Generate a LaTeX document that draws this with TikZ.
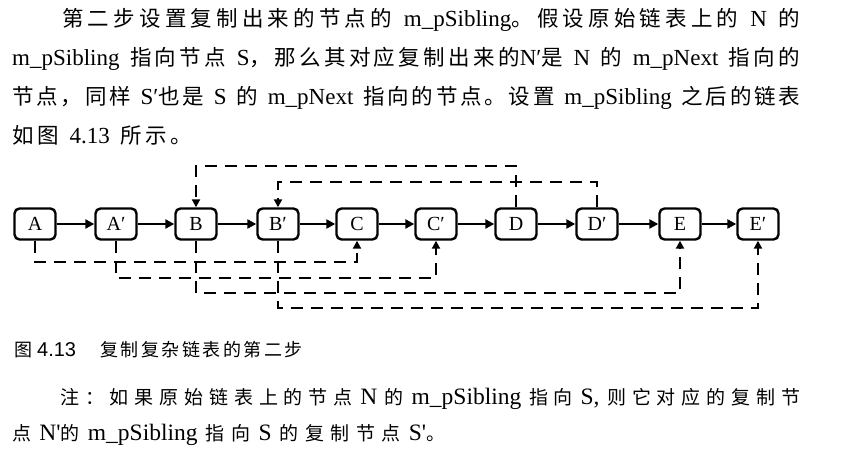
\documentclass[tikz,border=0pt]{standalone}
\usepackage{fontspec}
\setmainfont{Liberation Serif}
\newfontfamily\zhfont{Noto Sans CJK SC}
\newfontfamily\capsans{Liberation Sans}
\usetikzlibrary{arrows.meta}
\XeTeXinterchartokenstate=1
\newXeTeXintercharclass\zhcls
\newcount\zhcnt
\zhcnt="4E00
\loop
  \XeTeXcharclass\zhcnt=\zhcls
  \advance\zhcnt by 1
\ifnum\zhcnt<"A000 \repeat
\XeTeXcharclass"FF0C=\zhcls
\XeTeXcharclass"3002=\zhcls
\XeTeXcharclass"FF1A=\zhcls
\def\zhsp{\hskip 0pt plus 2bp}
\XeTeXinterchartoks\zhcls\zhcls={\zhsp}
\def\zhsize{21.5bp}
\newcommand\zh[1]{{\zhfont\fontsize{\zhsize}{\zhsize}\selectfont #1}}
\tikzset{
  lnode/.style={draw, line width=2.4bp, rounded corners=5bp, minimum width=41bp,
    minimum height=31bp, inner sep=0pt, font=\fontsize{20bp}{20bp}\selectfont},
  nxt/.style={line width=2.4bp, -{Triangle[length=9bp,width=9bp]}},
  sib/.style={line width=2.4bp, dash pattern=on 12bp off 8bp, -{Triangle[length=8bp,width=8bp]}},
  txt/.style={inner sep=0pt, anchor=base west, font=\fontsize{23bp}{26bp}\selectfont},
  notetxt/.style={inner sep=0pt, anchor=base west, font=\fontsize{23.5bp}{26bp}\selectfont},
}
\begin{document}
\begin{tikzpicture}[x=1bp,y=-1bp]
\useasboundingbox (0,0) rectangle (850,456);
% paragraph
\node[txt] (l1) at (62,27) {\makebox[738bp][s]{\zh{第二步设置复制出来的节点的} m\_pSibling\zh{。假设原始链表上的} N \zh{的}}};
\node[txt] (l2) at (12,66) {\makebox[788bp][s]{m\_pSibling \zh{指向节点} S\zh{，那么其对应复制出来的}N′\zh{是} N \zh{的} m\_pNext \zh{指向的}}};
\node[txt] (l3) at (12,105) {\makebox[788bp][s]{\zh{节点，同样} S′\zh{也是} S \zh{的} m\_pNext \zh{指向的节点。设置} m\_pSibling \zh{之后的链表}}};
\node[txt] (l4) at (12,144) {\makebox[180bp][s]{\zh{如图} 4.13 \zh{所示。}}};
% nodes
\node[lnode] (A)  at (35,224)  {A};
\node[lnode] (Ap) at (116,224) {A′};
\node[lnode] (B)  at (196,224) {B};
\node[lnode] (Bp) at (278,224) {B′};
\node[lnode] (C)  at (357,224) {C};
\node[lnode] (Cp) at (436,224) {C′};
\node[lnode] (D)  at (516,224) {D};
\node[lnode] (Dp) at (597,224) {D′};
\node[lnode] (E)  at (680,224) {E};
\node[lnode] (Ep) at (758,224) {E′};
\draw[nxt] (A) -- (Ap);
\draw[nxt] (Ap) -- (B);
\draw[nxt] (B) -- (Bp);
\draw[nxt] (Bp) -- (C);
\draw[nxt] (C) -- (Cp);
\draw[nxt] (Cp) -- (D);
\draw[nxt] (D) -- (Dp);
\draw[nxt] (Dp) -- (E);
\draw[nxt] (E) -- (Ep);
% sibling levels
\coordinate (ya) at (0,166);
\coordinate (yb) at (0,182);
\coordinate (yc) at (0,262);
\coordinate (yd) at (0,278);
\coordinate (ye) at (0,293);
\coordinate (yf) at (0,308);
\draw[sib] (D.north) |- (B.north |- ya) -- (B.north);
\draw[sib] (Dp.north) |- (Bp.north |- yb) -- (Bp.north);
\draw[sib] (A.south) |- (C.south |- yc) -- (C.south);
\draw[sib] (Ap.south) |- (Cp.south |- yd) -- (Cp.south);
\draw[sib] (B.south) |- (E.south |- ye) -- (E.south);
\draw[sib] (Bp.south) |- (Ep.south |- yf) -- (Ep.south);
% caption
\begingroup
\def\zhsize{18bp}\def\zhsp{\hskip 2.5bp}
\node[inner sep=0pt, anchor=base west] (cap1) at (14,357) {\zh{图}};
\node[inner sep=0pt, anchor=base west, font=\capsans\fontsize{20bp}{20bp}\selectfont] (cap2) at (37,357) {4.13};
\node[inner sep=0pt, anchor=base west] (cap3) at (100,357) {\zh{复制复杂链表的第二步}};
\endgroup
% note
\begingroup
\def\zhsize{19bp}\def\zhsp{\hskip 4bp plus 3bp}
\node[notetxt] (n1) at (60,404) {\makebox[740bp][s]{\zh{注：如果原始链表上的节点} N \zh{的} m\_pSibling \zh{指向} S, \zh{则它对应的复制节}}};
\node[notetxt] (n2) at (12,440) {\makebox[433bp][s]{\zh{点} N\textquotesingle\zh{的} m\_pSibling \zh{指向} S \zh{的复制节点} S\textquotesingle\zh{。}}};
\endgroup
\end{tikzpicture}
\end{document}
